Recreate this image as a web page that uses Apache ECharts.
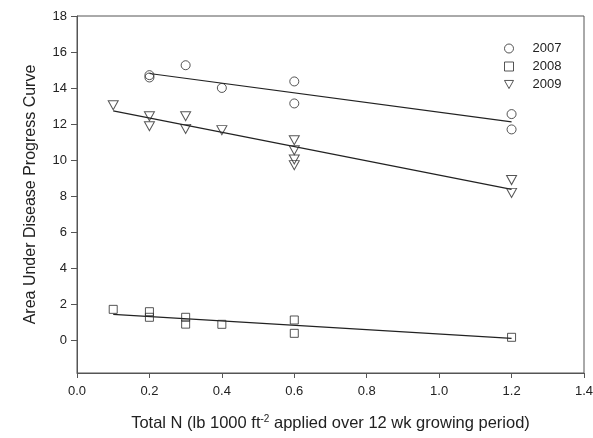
<!DOCTYPE html>
<html>
<head>
<meta charset="utf-8">
<script src="https://cdn.jsdelivr.net/npm/echarts@6/dist/echarts.min.js"></script>
<style>
  html, body {margin: 0; padding: 0; background: #fff;}
  #chart {width: 593px; height: 438px;}
</style>
</head>
<body>
<div id="chart"></div>
<script>
// values
const years = ['2007', '2008', '2009'];

const x2007 = [0.2, 0.2, 0.3, 0.4, 0.6, 0.6, 1.2, 1.2];
const y2007 = [14.72, 14.59, 15.27, 14.01, 14.37, 13.15, 12.56, 11.71];

const x2008 = [0.1, 0.2, 0.2, 0.3, 0.3, 0.4, 0.6, 0.6, 1.2];
const y2008 = [1.73, 1.60, 1.29, 1.29, 0.91, 0.90, 1.14, 0.40, 0.18];

const x2009 = [0.1, 0.2, 0.2, 0.3, 0.3, 0.4, 0.6, 0.6, 0.6, 0.6, 1.2, 1.2];
const y2009 = [13.05, 12.44, 11.89, 12.44, 11.74, 11.67, 11.11, 10.56, 10.04, 9.73, 8.90, 8.19];

// fitted line end points
const fitX2007 = [0.2, 1.2];
const fitY2007 = [14.81, 12.13];
const fitX2008 = [0.1, 1.2];
const fitY2008 = [1.45, 0.12];
const fitX2009 = [0.1, 1.2];
const fitY2009 = [12.74, 8.38];

const yTicks = [0, 2, 4, 6, 8, 10, 12, 14, 16, 18];

const zip = (xs, ys) => xs.map((x, i) => [x, ys[i]]);

const font = 'Liberation Sans, Arial, sans-serif';
const ink = '#222';
const triDown = 'path://M0,0 L10,0 L5,9 Z';

const pointStyle = {color: 'rgba(0,0,0,0)', borderColor: '#2a2a2a', borderWidth: 1};

const myChart = echarts.init(document.getElementById('chart'));
myChart.setOption({
  animation: false,
  backgroundColor: '#fff',
  textStyle: {fontFamily: font, color: ink},
  grid: {
    left: 77, top: 16, right: 9, bottom: 65,
    outerBoundsMode: 'none',
    containLabel: false,
    show: true, borderColor: '#555', borderWidth: 1
  },
  legend: {
    orient: 'vertical',
    left: 499, top: 37,
    itemWidth: 9, itemHeight: 9, itemGap: 5,
    data: years,
    itemStyle: {borderWidth: 1},
    textStyle: {fontSize: 13, color: ink, fontFamily: font, padding: [0, 0, 0, 14], lineHeight: 13}
  },
  xAxis: {
    type: 'value',
    min: 0, max: 1.4, interval: 0.2,
    splitLine: {show: false},
    axisLine: {onZero: false, lineStyle: {color: '#555', width: 1}},
    axisTick: {show: true, length: 5, lineStyle: {color: '#555'}},
    axisLabel: {
      fontSize: 13, color: ink, margin: 12, fontFamily: font,
      formatter: v => v.toFixed(1)
    },
    name: 'Total N (lb 1000 ft{sup|-2} applied over 12 wk growing period)',
    nameLocation: 'middle',
    nameGap: 41,
    nameTextStyle: {
      fontSize: 16.5, color: ink, fontFamily: font,
      rich: {sup: {fontSize: 10, color: ink, fontFamily: font, verticalAlign: 'top', padding: [0, 0, 9, 0]}}
    }
  },
  yAxis: {
    type: 'value',
    min: -1.8, max: 18,
    splitLine: {show: false},
    axisLine: {onZero: false, lineStyle: {color: '#555', width: 1}},
    axisTick: {show: true, length: 6, customValues: yTicks, lineStyle: {color: '#555'}},
    axisLabel: {fontSize: 13, color: ink, margin: 10, fontFamily: font, customValues: yTicks},
    name: 'Area Under Disease Progress Curve',
    nameLocation: 'middle',
    nameRotate: 90,
    nameGap: 38,
    nameTextStyle: {fontSize: 16, color: ink, fontFamily: font}
  },
  series: [
    {
      name: '2007', type: 'scatter', symbol: 'circle', symbolSize: 9,
      itemStyle: pointStyle, data: zip(x2007, y2007), z: 3
    },
    {
      name: '2008', type: 'scatter', symbol: 'rect', symbolSize: 8,
      itemStyle: pointStyle, data: zip(x2008, y2008), z: 3
    },
    {
      name: '2009', type: 'scatter', symbol: triDown, symbolSize: [10, 9],
      itemStyle: pointStyle, data: zip(x2009, y2009), z: 3
    },
    {
      type: 'line', data: zip(fitX2007, fitY2007), symbol: 'none',
      lineStyle: {color: ink, width: 1.2}, silent: true
    },
    {
      type: 'line', data: zip(fitX2008, fitY2008), symbol: 'none',
      lineStyle: {color: ink, width: 1.2}, silent: true
    },
    {
      type: 'line', data: zip(fitX2009, fitY2009), symbol: 'none',
      lineStyle: {color: ink, width: 1.2}, silent: true
    }
  ]
});
</script>
</body>
</html>
